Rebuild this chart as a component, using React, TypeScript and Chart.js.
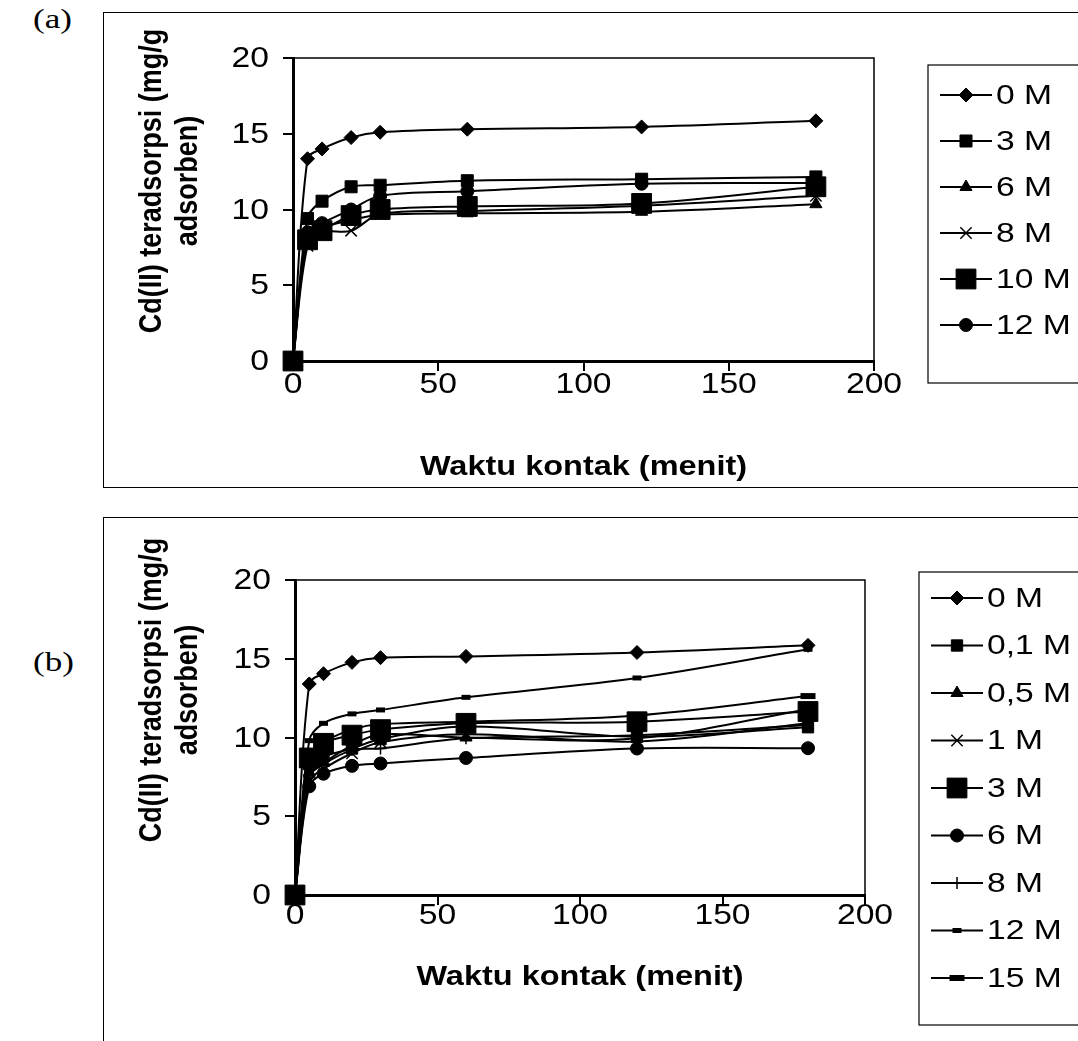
import React, { useEffect, useRef } from 'react';
import { Chart, registerables } from 'chart.js';

Chart.register(...registerables);

// ---------- data ----------
const times = [0, 5, 10, 20, 30, 60, 120, 180];
const xTicks = [0, 50, 100, 150, 200];
const yTicks = [0, 5, 10, 15, 20];
const yTitleLines = ['Cd(II) teradsorpsi (mg/g', 'adsorben)'];
const xTitle = 'Waktu kontak (menit)';

// panel (a)
const aLabels = ['0 M', '3 M', '6 M', '8 M', '10 M', '12 M'];
const a0M = [0, 13.35, 14.0, 14.75, 15.1, 15.3, 15.45, 15.85];
const a3M = [0, 9.4, 10.55, 11.5, 11.6, 11.9, 12.0, 12.15];
const a6M = [0, 8.2, 8.8, 9.3, 9.65, 9.75, 9.85, 10.35];
const a8M = [0, 7.6, 8.5, 8.6, 9.7, 9.9, 10.25, 10.9];
const a10M = [0, 8.0, 8.6, 9.6, 10.0, 10.2, 10.4, 11.5];
const a12M = [0, 8.5, 9.1, 10.0, 10.9, 11.2, 11.7, 11.75];

// panel (b)
const bLabels = ['0 M', '0,1 M', '0,5 M', '1 M', '3 M', '6 M', '8 M', '12 M', '15 M'];
const b0M = [0, 13.4, 14.05, 14.77, 15.07, 15.15, 15.4, 15.85];
const b01M = [0, 8.3, 8.8, 9.3, 9.9, 10.7, 10.05, 10.65];
const b05M = [0, 7.8, 8.4, 9.5, 10.2, 10.0, 9.95, 11.8];
const b1M = [0, 7.2, 8.0, 9.0, 9.7, 10.2, 9.75, 10.9];
const b3M = [0, 8.7, 9.63, 10.15, 10.5, 10.9, 11.0, 11.65];
const b6M = [0, 6.9, 7.7, 8.2, 8.35, 8.7, 9.3, 9.32];
const b8M = [0, 7.5, 8.3, 9.2, 9.3, 9.95, 10.15, 10.8];
const b12M = [0, 9.8, 10.9, 11.5, 11.75, 12.55, 13.78, 15.6];
const b15M = [0, 8.8, 9.7, 10.5, 10.85, 11.0, 11.4, 12.63];

// ---------- styles ----------
type Marker = { style: string; r: number; bw: number };
const FONT = '"Liberation Sans", Arial, sans-serif';
const SX = 1.16; // horizontal text stretch seen in the reference

const aMarkers: Marker[] = [
  { style: 'rectRot', r: 7, bw: 1 },
  { style: 'rect', r: 8.5, bw: 1 },
  { style: 'triangle', r: 7, bw: 1 },
  { style: 'crossRot', r: 8, bw: 1.5 },
  { style: 'rect', r: 14, bw: 1 },
  { style: 'circle', r: 6.5, bw: 1 },
];
const bMarkers: Marker[] = [
  { style: 'rectRot', r: 7, bw: 1 },
  { style: 'rect', r: 8, bw: 1 },
  { style: 'triangle', r: 7, bw: 1 },
  { style: 'crossRot', r: 8, bw: 1.5 },
  { style: 'rect', r: 14, bw: 1 },
  { style: 'circle', r: 6.5, bw: 1 },
  { style: 'cross', r: 6, bw: 1.5 },
  { style: 'line', r: 4.5, bw: 5 },
  { style: 'line', r: 7.5, bw: 6 },
];

type PanelSpec = {
  series: number[][];
  labels: string[];
  markers: Marker[];
  canvasTop: number;
  height: number;
  area: { left: number; right: number; top: number; bottom: number };
  yTitle: { x1: number; x2: number; cy: number };
  xTitleY: number;
  xLabelDy: number;
  legend: { left: number; top: number; bottom: number; row0: number; step: number; l1: number; l2: number; mx: number; tx: number };
};

const W = 1078;

const panelA: PanelSpec = {
  series: [a0M, a3M, a6M, a8M, a10M, a12M],
  labels: aLabels,
  markers: aMarkers,
  canvasTop: 0,
  height: 502,
  area: { left: 293, right: 874, top: 58, bottom: 361 },
  yTitle: { x1: 152, x2: 188, cy: 181 },
  xTitleY: 467,
  xLabelDy: 24,
  legend: { left: 928, top: 65, bottom: 383, row0: 95, step: 46, l1: 940, l2: 992, mx: 966, tx: 996 },
};

const panelB: PanelSpec = {
  series: [b0M, b01M, b05M, b1M, b3M, b6M, b8M, b12M, b15M],
  labels: bLabels,
  markers: bMarkers,
  canvasTop: 502,
  height: 539,
  area: { left: 295, right: 865, top: 580, bottom: 895 },
  yTitle: { x1: 152, x2: 188, cy: 690 },
  xTitleY: 977,
  xLabelDy: 21,
  legend: { left: 919, top: 572, bottom: 1025, row0: 598, step: 47.5, l1: 931, l2: 983, mx: 957, tx: 987 },
};

function drawMarker(ctx: CanvasRenderingContext2D, m: Marker, x: number, y: number) {
  const r = m.r;
  ctx.save();
  ctx.fillStyle = '#000';
  ctx.strokeStyle = '#000';
  ctx.lineWidth = m.bw;
  ctx.beginPath();
  switch (m.style) {
    case 'rectRot':
      ctx.moveTo(x - r, y);
      ctx.lineTo(x, y - r);
      ctx.lineTo(x + r, y);
      ctx.lineTo(x, y + r);
      ctx.closePath();
      ctx.fill();
      ctx.stroke();
      break;
    case 'rect': {
      const s = r * Math.SQRT1_2;
      ctx.rect(x - s, y - s, 2 * s, 2 * s);
      ctx.fill();
      ctx.stroke();
      break;
    }
    case 'triangle':
      ctx.moveTo(x, y - r);
      ctx.lineTo(x + 0.866 * r, y + 0.5 * r);
      ctx.lineTo(x - 0.866 * r, y + 0.5 * r);
      ctx.closePath();
      ctx.fill();
      ctx.stroke();
      break;
    case 'crossRot': {
      const d = r * Math.SQRT1_2;
      ctx.moveTo(x - d, y - d);
      ctx.lineTo(x + d, y + d);
      ctx.moveTo(x - d, y + d);
      ctx.lineTo(x + d, y - d);
      ctx.stroke();
      break;
    }
    case 'cross':
      ctx.moveTo(x, y - r);
      ctx.lineTo(x, y + r);
      ctx.moveTo(x - r, y);
      ctx.lineTo(x + r, y);
      ctx.stroke();
      break;
    case 'circle':
      ctx.arc(x, y, r, 0, Math.PI * 2);
      ctx.fill();
      ctx.stroke();
      break;
    case 'line':
      ctx.moveTo(x - r, y);
      ctx.lineTo(x + r, y);
      ctx.stroke();
      break;
  }
  ctx.restore();
}

function stretchedText(
  ctx: CanvasRenderingContext2D,
  text: string,
  x: number,
  y: number,
  align: CanvasTextAlign,
  font: string,
  sx: number
) {
  ctx.save();
  ctx.translate(x, y);
  ctx.scale(sx, 1);
  ctx.font = font;
  ctx.fillStyle = '#000';
  ctx.textAlign = align;
  ctx.textBaseline = 'middle';
  ctx.fillText(text, 0, 0);
  ctx.restore();
}

function makeConfig(p: PanelSpec): any {
  const top = p.area.top - p.canvasTop;
  const bottom = p.area.bottom - p.canvasTop;
  const off = p.canvasTop;
  const decor = {
    id: 'decor',
    afterDraw(chart: any) {
      const ctx: CanvasRenderingContext2D = chart.ctx;
      const ca = chart.chartArea;
      ctx.save();
      // plot frame (top, right)
      ctx.strokeStyle = '#000';
      ctx.lineWidth = 1.5;
      ctx.beginPath();
      ctx.moveTo(ca.left, ca.top);
      ctx.lineTo(ca.right, ca.top);
      ctx.lineTo(ca.right, ca.bottom);
      ctx.stroke();

      // tick labels, placed with the library's scales
      const tickFont = `29px ${FONT}`;
      const xs = chart.scales.x;
      const ys = chart.scales.y;
      xTicks.forEach((v) => {
        stretchedText(ctx, String(v), xs.getPixelForValue(v), ca.bottom + p.xLabelDy, 'center', tickFont, SX);
      });
      yTicks.forEach((v) => {
        stretchedText(ctx, String(v), ca.left - 24, ys.getPixelForValue(v) + 1, 'right', tickFont, SX);
      });

      // y title (rotated, stretched along page x)
      ctx.fillStyle = '#000';
      ctx.font = `bold 27px ${FONT}`;
      ctx.textAlign = 'center';
      ctx.textBaseline = 'middle';
      [p.yTitle.x1, p.yTitle.x2].forEach((x, i) => {
        ctx.save();
        ctx.translate(x, p.yTitle.cy - off);
        ctx.rotate(-Math.PI / 2);
        ctx.scale(1, SX);
        ctx.fillText(yTitleLines[i], 0, 0);
        ctx.restore();
      });
      // x title
      stretchedText(ctx, xTitle, (ca.left + ca.right) / 2, p.xTitleY - off, 'center', `bold 28px ${FONT}`, SX);

      // legend
      const L = p.legend;
      ctx.lineWidth = 1.2;
      ctx.strokeStyle = '#000';
      ctx.strokeRect(L.left, L.top - off, W + 20 - L.left, L.bottom - L.top);
      p.labels.forEach((lab, i) => {
        const y = L.row0 + i * L.step - off;
        ctx.lineWidth = 2;
        ctx.strokeStyle = '#000';
        ctx.beginPath();
        ctx.moveTo(L.l1, y);
        ctx.lineTo(L.l2, y);
        ctx.stroke();
        drawMarker(ctx, p.markers[i], L.mx, y);
        stretchedText(ctx, lab, L.tx, y + 1, 'left', `28px ${FONT}`, 1.2);
      });
      ctx.restore();
    },
  };

  return {
    type: 'line',
    data: {
      datasets: p.series.map((vals, i) => ({
        label: p.labels[i],
        data: times.map((t, j) => ({ x: t, y: vals[j] })),
        borderColor: '#000',
        backgroundColor: '#000',
        borderWidth: 2,
        pointStyle: p.markers[i].style,
        pointRadius: p.markers[i].r,
        pointBorderWidth: p.markers[i].bw,
        pointBackgroundColor: '#000',
        pointBorderColor: '#000',
        tension: 0.35,
        fill: false,
        clip: false,
      })),
    },
    options: {
      responsive: false,
      animation: false,
      devicePixelRatio: 1,
      layout: {
        autoPadding: false,
        padding: { top, right: W - p.area.right, left: 0, bottom: 0 },
      },
      plugins: { legend: { display: false }, tooltip: { enabled: false } },
      scales: {
        x: {
          type: 'linear',
          min: xTicks[0],
          max: xTicks[xTicks.length - 1],
          afterBuildTicks: (s: any) => {
            s.ticks = xTicks.map((v) => ({ value: v }));
          },
          afterFit: (s: any) => {
            s.height = p.height - bottom;
          },
          ticks: { display: false, autoSkip: false },
          grid: { drawOnChartArea: false, drawTicks: true, tickLength: 10, color: '#000', lineWidth: 2 },
          border: { display: true, color: '#000', width: 3 },
        },
        y: {
          type: 'linear',
          min: yTicks[0],
          max: yTicks[yTicks.length - 1],
          afterBuildTicks: (s: any) => {
            s.ticks = yTicks.map((v) => ({ value: v }));
          },
          afterFit: (s: any) => {
            s.width = p.area.left;
          },
          ticks: { display: false, autoSkip: false },
          grid: { drawOnChartArea: false, drawTicks: true, tickLength: 10, color: '#000', lineWidth: 2 },
          border: { display: true, color: '#000', width: 3 },
        },
      },
    },
    plugins: [decor],
  };
}

function Panel({ spec }: { spec: PanelSpec }) {
  const ref = useRef<HTMLCanvasElement>(null);
  useEffect(() => {
    if (!ref.current) return;
    const chart = new Chart(ref.current, makeConfig(spec));
    return () => chart.destroy();
  }, [spec]);
  return (
    <canvas
      ref={ref}
      width={W}
      height={spec.height}
      style={{ position: 'absolute', left: 0, top: spec.canvasTop, width: W, height: spec.height }}
    />
  );
}

export default function App() {
  const labelStyle: React.CSSProperties = {
    position: 'absolute',
    left: 33,
    fontFamily: '"Liberation Serif", "Times New Roman", serif',
    fontSize: 27,
    color: '#000',
    lineHeight: '27px',
    transform: 'scaleX(1.3)',
    transformOrigin: 'left center',
  };
  return (
    <div style={{ position: 'absolute', left: 0, top: 0, width: W, height: 1041, overflow: 'hidden', background: '#fff' }}>
      <div style={{ position: 'absolute', left: 103, top: 12, width: 1000, height: 474, border: '1px solid #000' }} />
      <div style={{ position: 'absolute', left: 103, top: 517, width: 1000, height: 600, border: '1px solid #000' }} />
      <div style={{ ...labelStyle, top: 6 }}>(a)</div>
      <div style={{ ...labelStyle, top: 649 }}>(b)</div>
      <Panel spec={panelA} />
      <Panel spec={panelB} />
    </div>
  );
}
